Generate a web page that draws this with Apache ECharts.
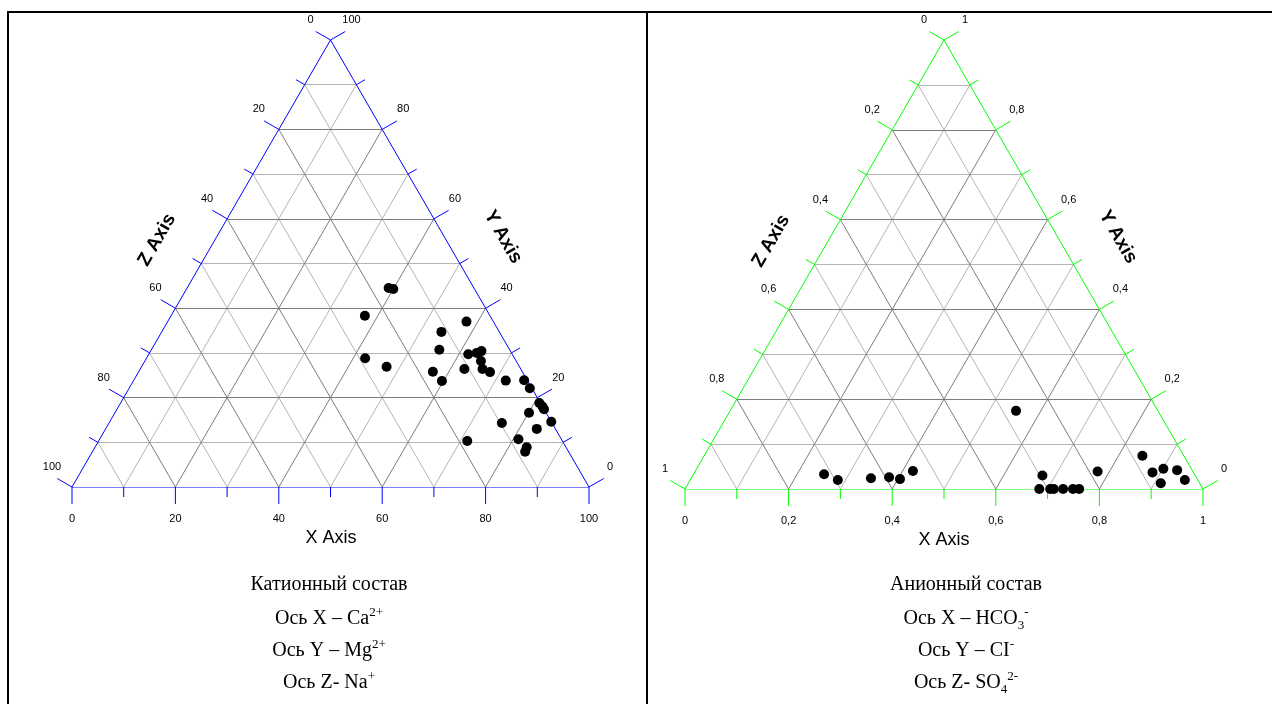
<!DOCTYPE html>
<html><head><meta charset="utf-8">
<script src="https://cdn.jsdelivr.net/npm/echarts@6/dist/echarts.min.js"></script>
<style>html,body{margin:0;padding:0;background:#fff;} #c{width:1272px;height:704px;}</style>
</head><body><div id="c"></div>
<script>
// ---------- DATA ----------
// Cation composition, % : X = Ca2+, Y = Mg2+, Z = Na+
const cationX = [39.0, 40.0, 37.5, 42.3, 47.4, 57.8, 54.1, 55.7, 56.9, 59.7, 61.8, 63.3, 64.0, 65.0, 66.2, 68.0, 62.7, 72.0, 75.5, 77.5, 81.0, 82.0, 82.6, 80.1, 85.4, 76.0, 83.4, 81.0, 83.5, 83.7, 71.3];
const cationY = [44.5, 44.3, 38.3, 28.8, 26.9, 37.0, 34.7, 30.7, 25.8, 23.7, 29.7, 30.0, 30.4, 28.2, 26.4, 25.7, 26.4, 23.8, 23.9, 22.1, 18.8, 18.0, 17.4, 16.6, 14.6, 14.3, 13.0, 10.7, 8.9, 7.9, 10.3];
const cationZ = [16.5, 15.7, 24.2, 28.9, 25.7, 5.2, 11.2, 13.6, 17.3, 16.6, 8.5, 6.7, 5.6, 6.8, 7.4, 6.3, 10.9, 4.2, 0.6, 0.4, 0.2, 0.0, 0.0, 3.3, 0.0, 9.7, 3.6, 8.3, 7.6, 8.4, 18.4];

// Anion composition, fraction : X = HCO3-, Y = Cl-, Z = SO4 2-
const anionX = [0.252, 0.285, 0.347, 0.381, 0.404, 0.420, 0.552, 0.675, 0.684, 0.705, 0.712, 0.730, 0.749, 0.761, 0.777, 0.846, 0.884, 0.901, 0.929, 0.912, 0.955];
const anionY = [0.033, 0.020, 0.024, 0.026, 0.022, 0.040, 0.174, 0.030, 0.000, 0.000, 0.000, 0.000, 0.000, 0.000, 0.039, 0.074, 0.037, 0.045, 0.042, 0.013, 0.020];
const anionZ = [0.715, 0.695, 0.629, 0.593, 0.574, 0.540, 0.274, 0.295, 0.316, 0.295, 0.288, 0.270, 0.251, 0.239, 0.184, 0.080, 0.079, 0.054, 0.029, 0.075, 0.025];

const cationTickLabels = ['0', '20', '40', '60', '80', '100'];
const anionTickLabels = ['0', '0,2', '0,4', '0,6', '0,8', '1'];
const gridSteps = [0, 0.1, 0.2, 0.3, 0.4, 0.5, 0.6, 0.7, 0.8, 0.9, 1];

const axisTitles = ['X Axis', 'Y Axis', 'Z Axis'];
const cationCaption = ['Катионный состав', 'Ось X – Ca{sup|2+}', 'Ось Y – Mg{sup|2+}', 'Ось Z- Na{sup|+}'];
const anionCaption = ['Анионный состав', 'Ось X – HCO{sub|3}{sup|-}', 'Ось Y – CI{sup|-}', 'Ось Z- SO{sub|4}{sup|2-}'];

// ---------- HELPERS ----------
function tern(X, Y, Z) { const s = X + Y + Z; return [(X + Y / 2) / s, Y / s]; }
function points(xs, ys, zs) { return xs.map((x, i) => tern(x, ys[i], zs[i])); }

function gridLines(major) {
  const out = [];
  gridSteps.forEach(t => {
    if (t <= 0 || t >= 1) return;
    const isMajor = Math.round(t * 10) % 2 === 0;
    if (isMajor !== major) return;
    out.push({ coords: [tern(0, t, 1 - t), tern(1 - t, t, 0)] });      // constant Y
    out.push({ coords: [tern(t, 0, 1 - t), tern(t, 1 - t, 0)] });      // constant X
    out.push({ coords: [tern(1 - t, 0, t), tern(0, 1 - t, t)] });      // constant Z
  });
  return out;
}
function edges() {
  return [
    { coords: [tern(0, 0, 1), tern(1, 0, 0)] },
    { coords: [tern(1, 0, 0), tern(0, 1, 0)] },
    { coords: [tern(0, 1, 0), tern(0, 0, 1)] }
  ];
}

function tickRenderer(labels, color) {
  return function (params, api) {
    const t = api.value(0);
    const k = Math.round(t * 10);
    const major = k % 2 === 0;
    const len = major ? 17 : 10;
    const c = [];
    const ln = (p, dx, dy) => ({ type: 'line', shape: { x1: p[0], y1: p[1], x2: p[0] + dx, y2: p[1] + dy }, style: { stroke: color, lineWidth: 1 } });
    const pb = api.coord(tern(t, 0, 1 - t));
    const pr = api.coord(tern(1 - t, t, 0));
    const pl = api.coord(tern(0, 1 - t, t));
    c.push(ln(pb, 0, len));
    c.push(ln(pr, len * 0.866, -len * 0.5));
    c.push(ln(pl, -len * 0.866, -len * 0.5));
    if (major) {
      const lab = labels[k / 2];
      const ts = (x, y) => ({ type: 'text', x: x, y: y, style: { text: lab, fill: '#000', fontSize: 11, fontFamily: '"Liberation Sans", Arial, sans-serif', align: 'center', verticalAlign: 'middle' } });
      c.push(ts(pb[0], pb[1] + 32));
      c.push(ts(pr[0] + 21, pr[1] - 20));
      c.push(ts(pl[0] - 20, pl[1] - 20));
    }
    return { type: 'group', children: c };
  };
}

function triangleSeries(idx, color, labels, xs, ys, zs) {
  const common = { xAxisIndex: idx, yAxisIndex: idx, silent: true, animation: false };
  return [
    Object.assign({ type: 'lines', coordinateSystem: 'cartesian2d', z: 1, lineStyle: { color: '#b4b4b4', width: 1, opacity: 1 }, data: gridLines(false) }, common),
    Object.assign({ type: 'lines', coordinateSystem: 'cartesian2d', z: 2, lineStyle: { color: '#7c7c7c', width: 1, opacity: 1 }, data: gridLines(true) }, common),
    Object.assign({ type: 'lines', coordinateSystem: 'cartesian2d', z: 3, lineStyle: { color: color, width: 1, opacity: 1 }, data: edges() }, common),
    Object.assign({ type: 'custom', coordinateSystem: 'cartesian2d', z: 4, clip: false, renderItem: tickRenderer(labels, color), data: gridSteps.map(t => [t, 0]) }, common),
    Object.assign({ type: 'scatter', z: 5, symbol: 'circle', symbolSize: 10, itemStyle: { color: '#000', opacity: 1 }, data: points(xs, ys, zs) }, common)
  ];
}

const titleFont = '"Liberation Sans", Arial, sans-serif';
const serif = '"Liberation Serif", "Times New Roman", serif';
function captionTexts(lines, cx) {
  const ys = [585, 619, 651, 683];
  return lines.map((s, i) => ({
    type: 'text', x: cx, y: ys[i], silent: true,
    style: {
      text: s, fill: '#000', fontFamily: serif, fontSize: 20, align: 'center', verticalAlign: 'middle',
      rich: {
        sup: { fontSize: 13, fontFamily: serif, verticalAlign: 'top', lineHeight: 26 },
        sub: { fontSize: 13, fontFamily: serif, verticalAlign: 'bottom', lineHeight: 26 }
      }
    }
  }));
}
function axisTitleTexts(xPos, yPos, zPos) {
  return [
    { type: 'text', x: xPos[0], y: xPos[1], silent: true, style: { text: axisTitles[0], fill: '#000', fontFamily: titleFont, fontSize: 18, align: 'center', verticalAlign: 'middle' } },
    { type: 'text', x: yPos[0], y: yPos[1], rotation: -Math.PI / 3, silent: true, style: { text: axisTitles[1], fill: '#000', fontFamily: titleFont, fontSize: 19, fontWeight: 'bold', align: 'center', verticalAlign: 'middle' } },
    { type: 'text', x: zPos[0], y: zPos[1], rotation: Math.PI / 3, silent: true, style: { text: axisTitles[2], fill: '#000', fontFamily: titleFont, fontSize: 19, fontWeight: 'bold', align: 'center', verticalAlign: 'middle' } }
  ];
}

const chart = echarts.init(document.getElementById('c'), null, { renderer: 'canvas' });
const hiddenAxis = (i) => ({ gridIndex: i, type: 'value', min: 0, max: 1, show: false });
chart.setOption({
  animation: false,
  backgroundColor: '#fff',
  grid: [
    { left: 72, top: 40, width: 517, height: 447 },
    { left: 685, top: 40, width: 518, height: 449 }
  ],
  xAxis: [hiddenAxis(0), hiddenAxis(1)],
  yAxis: [hiddenAxis(0), hiddenAxis(1)],
  series: [].concat(
    triangleSeries(0, '#0000ff', cationTickLabels, cationX, cationY, cationZ),
    triangleSeries(1, '#00ff00', anionTickLabels, anionX, anionY, anionZ)
  ),
  graphic: [].concat(
    [
      { type: 'line', silent: true, shape: { x1: 7, y1: 12, x2: 1272, y2: 12 }, style: { stroke: '#000', lineWidth: 2 } },
      { type: 'line', silent: true, shape: { x1: 8, y1: 11, x2: 8, y2: 704 }, style: { stroke: '#000', lineWidth: 2 } },
      { type: 'line', silent: true, shape: { x1: 647, y1: 11, x2: 647, y2: 704 }, style: { stroke: '#000', lineWidth: 2 } }
    ],
    axisTitleTexts([331, 538], [503, 237], [157, 240]),
    axisTitleTexts([944, 540], [1118, 237], [771, 241]),
    captionTexts(cationCaption, 329),
    captionTexts(anionCaption, 966)
  )
});
</script></body></html>
